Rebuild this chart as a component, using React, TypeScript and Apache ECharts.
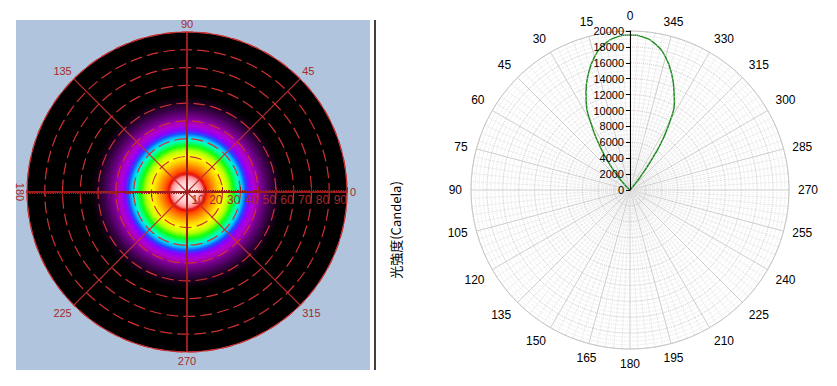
import React, { useEffect, useRef } from 'react';
import * as echarts from 'echarts';

// ---------- Right chart: luminous intensity (cd) vs. angle (deg, + = left side) ----------
const curveAngles = [-45, -41, -39, -37, -35, -33, -30, -27, -24, -20, -15, -10, -5, 0, 5, 10, 15, 20, 24, 27, 30, 33, 36, 39, 42, 45, 48, 52];
const curveValues = [0, 400, 1400, 3100, 5300, 7500, 10200, 12300, 13600, 15400, 17300, 18600, 19300, 19500, 19300, 18600, 17300, 15400, 13600, 12100, 10000, 7800, 5600, 3700, 2000, 900, 200, 0];
const rightAngleMax = 360;
const rightAngleStep = 15;
const rightRadiusMax = 20000;
const rightRadiusStep = 2000;

// ---------- Left chart: radial intensity profile (polar angle 0..90 deg) ----------
const profileRadius = [0, 6, 9, 10.5, 12, 15, 18, 20, 23, 26, 29, 31, 33, 35, 38, 42, 46, 50, 54, 90];
const profileLevel = [100, 97, 93, 89, 85, 79, 73, 70, 64, 56, 50, 44, 38, 32, 26, 18, 10, 4, 0, 0];
const leftRadiusMax = 90;
const leftRadiusStep = 10;
const leftAngleStep = 45;

// colour scale (level -> colour)
const scaleLevels = [0, 4, 10, 18, 26, 32, 38, 44, 50, 56, 64, 70, 78, 86, 90, 94, 100];
const scaleColors = ['#000000', '#1c0020', '#420052', '#75008c', '#b400c8', '#8a00ff', '#1a4cff', '#00c8ff', '#00ffc0', '#10ff10', '#c0ff00', '#ffff00', '#ffa000', '#ff4000', '#f00000', '#ff9a9a', '#ffffff'];

function hexToRgb(h: string) {
  const n = parseInt(h.slice(1), 16);
  return [(n >> 16) & 255, (n >> 8) & 255, n & 255];
}
function colorAt(v: number) {
  for (let i = 1; i < scaleLevels.length; i++) {
    if (v <= scaleLevels[i]) {
      const t = (v - scaleLevels[i - 1]) / (scaleLevels[i] - scaleLevels[i - 1]);
      const a = hexToRgb(scaleColors[i - 1]);
      const b = hexToRgb(scaleColors[i]);
      const c = a.map((x, k) => Math.round(x + (b[k] - x) * t));
      return `rgb(${c[0]},${c[1]},${c[2]})`;
    }
  }
  return scaleColors[scaleColors.length - 1];
}

const FONT = '"Liberation Sans", Arial, sans-serif';
const DARK_RED = '#9a1c1c';
const LABEL_RED = '#a52a2a';
const SPOKE_RED = '#c03030';

export default function App() {
  const ref = useRef<HTMLDivElement>(null);
  useEffect(() => {
    if (!ref.current) return;
    const chart = echarts.init(ref.current, undefined, { renderer: 'svg' });

    const renderProfile = (params: any, api: any) => {
      const i = params.dataIndex;
      if (i === 0) return null;
      const c = api.coord([0, 0]);
      const p0 = api.coord([profileRadius[i - 1], 0]);
      const p1 = api.coord([api.value(0), 0]);
      const rIn = Math.hypot(p0[0] - c[0], p0[1] - c[1]);
      const rOut = Math.hypot(p1[0] - c[0], p1[1] - c[1]);
      const l0 = profileLevel[i - 1];
      const l1 = api.value(2);
      const stops: any[] = [];
      const n = 6;
      for (let k = 0; k <= n; k++) {
        const t = k / n;
        const rr = rIn + (rOut - rIn) * t;
        stops.push({ offset: rOut > 0 ? rr / rOut : 1, color: colorAt(l0 + (l1 - l0) * t) });
      }
      return {
        type: 'circle',
        z2: 100 - i,
        shape: { cx: c[0], cy: c[1], r: rOut },
        style: { fill: new echarts.graphic.RadialGradient(c[0], c[1], rOut, stops, true) },
      };
    };

    const hiddenAxisBits = { axisLine: { show: false }, axisTick: { show: false }, axisLabel: { show: false } };

    const option: any = {
      animation: false,
      textStyle: { fontFamily: FONT },
      polar: [
        { center: [187, 192], radius: 160 },
        { center: [187, 192], radius: 160 },
        { center: [630, 190], radius: 159 },
        { center: [187, 192], radius: 160 },
      ],
      angleAxis: [
        {
          polarIndex: 0, type: 'value', min: 0, max: 360, interval: leftAngleStep, startAngle: 0, clockwise: false, z: 7,
          axisLine: { show: true, lineStyle: { color: '#c83232', width: 1 } },
          axisTick: { show: false },
          axisLabel: { margin: 3, color: LABEL_RED, fontSize: 11, fontFamily: FONT, formatter: (v: number) => (v === 180 || v === 360 ? '' : String(v)) },
          splitLine: { show: false },
        },
        {
          polarIndex: 1, type: 'value', min: 0, max: 360, interval: 90, startAngle: 180, clockwise: false, z: 6,
          ...hiddenAxisBits,
          splitLine: { show: true, lineStyle: { color: DARK_RED, width: 2 } },
        },
        {
          polarIndex: 2, type: 'value', min: 0, max: rightAngleMax, interval: rightAngleStep, startAngle: 90, clockwise: false,
          axisLine: { show: true, lineStyle: { color: '#c8c8c8' } },
          axisTick: { show: false },
          axisLabel: { margin: 9, color: '#000', fontSize: 12, fontFamily: FONT, formatter: (v: number) => (v === 360 ? '' : String(v)) },
          splitLine: { show: true, lineStyle: { color: '#cdcdcd', width: 1 } },
          minorTick: { show: false, splitNumber: 5 },
          minorSplitLine: { show: true, lineStyle: { color: '#e2e2e2', type: 'dotted' } },
        },
        {
          polarIndex: 3, type: 'value', min: 0, max: 360, interval: 90, startAngle: 45, clockwise: false, z: 5,
          ...hiddenAxisBits,
          splitLine: { show: true, lineStyle: { color: SPOKE_RED, width: 1.2 } },
        },
      ],
      radiusAxis: [
        {
          polarIndex: 0, type: 'value', min: 0, max: leftRadiusMax, interval: leftRadiusStep, z: 5,
          axisLine: { show: true, lineStyle: { color: DARK_RED, width: 2 } },
          axisTick: { show: true, length: 5, lineStyle: { color: DARK_RED } },
          minorTick: { show: true, splitNumber: 10, length: 2, lineStyle: { color: DARK_RED } },
          axisLabel: { margin: -8, color: LABEL_RED, fontSize: 12, fontFamily: FONT, align: 'right', verticalAlign: 'middle', formatter: (v: number) => (v === 0 ? '' : String(v)) },
          splitLine: { show: true, lineStyle: { color: '#d03030', width: 1.2, type: [12, 5] } },
        },
        {
          polarIndex: 1, type: 'value', min: 0, max: leftRadiusMax, interval: leftRadiusStep, z: 6,
          axisLine: { show: true, lineStyle: { color: DARK_RED, width: 2 } },
          axisTick: { show: true, length: 5, lineStyle: { color: DARK_RED } },
          minorTick: { show: true, splitNumber: 10, length: 2, lineStyle: { color: DARK_RED } },
          axisLabel: { show: false },
          splitLine: { show: false },
        },
        {
          polarIndex: 2, type: 'value', min: 0, max: rightRadiusMax, interval: rightRadiusStep, z: 4,
          axisLine: { show: true, lineStyle: { color: '#000', width: 1 } },
          axisTick: { show: true, length: 4, lineStyle: { color: '#000' } },
          axisLabel: { margin: 6, color: '#000', fontSize: 11, fontFamily: FONT, formatter: (v: number) => String(v) },
          splitLine: { show: true, lineStyle: { color: '#c4c4c4', type: 'dotted' } },
          minorTick: { show: false, splitNumber: 4 },
          minorSplitLine: { show: true, lineStyle: { color: '#e4e4e4', type: 'dotted' } },
        },
        {
          polarIndex: 3, type: 'value', min: 0, max: leftRadiusMax, z: 5,
          ...hiddenAxisBits,
          splitLine: { show: false },
        },
      ],
      series: [
        {
          type: 'custom', coordinateSystem: 'polar', polarIndex: 0, silent: true, z: 2,
          data: profileRadius.map((r, i) => [r, 0, profileLevel[i]]),
          renderItem: renderProfile,
        },
        {
          type: 'line', coordinateSystem: 'polar', polarIndex: 2, z: 3, clip: false,
          showSymbol: false, smooth: true,
          data: curveAngles.map((a, i) => [curveValues[i], a]),
          lineStyle: { color: '#1e8a1e', width: 1.5 },
        },
      ],
      graphic: {
        elements: [
          { type: 'rect', z: -10, shape: { x: 16, y: 20, width: 354, height: 350 }, style: { fill: '#b0c4de' } },
          { type: 'line', z: 1, shape: { x1: 375, y1: 20, x2: 375, y2: 370 }, style: { stroke: '#000', lineWidth: 1.5 } },
          { type: 'text', z: 10, x: 20, y: 192, rotation: -Math.PI / 2, style: { text: '180', fill: LABEL_RED, font: `11px ${FONT}`, align: 'center', verticalAlign: 'middle' } },
          { type: 'text', z: 10, x: 395, y: 230, rotation: Math.PI / 2, style: { text: '光強度(Candela)', fill: '#000', font: '13px "Noto Sans CJK JP", "Liberation Sans", sans-serif', align: 'center', verticalAlign: 'middle' } },
        ],
      },
    };
    chart.setOption(option);
    return () => chart.dispose();
  }, []);
  return <div ref={ref} style={{ position: 'absolute', left: 0, top: 0, width: 837, height: 386 }} />;
}
